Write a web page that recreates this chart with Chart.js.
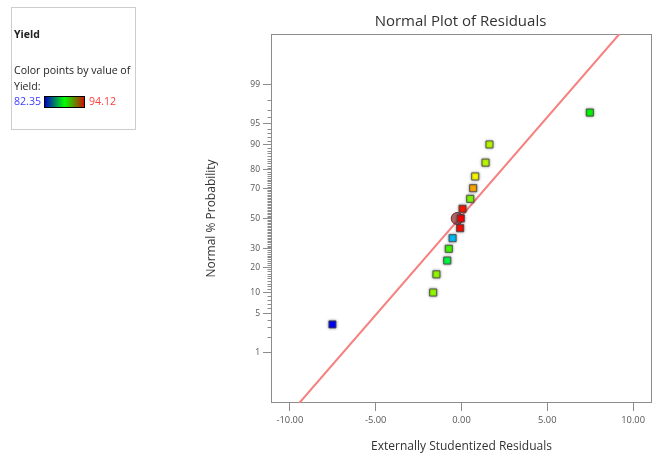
<!DOCTYPE html>
<html>
<head>
<meta charset="utf-8">
<script src="https://cdn.jsdelivr.net/npm/chart.js@4.4.1/dist/chart.umd.min.js"></script>
<style>
  html, body { margin: 0; padding: 0; background: #fff; }
  #wrap { position: relative; width: 654px; height: 458px; overflow: hidden; }
  #plot { position: absolute; left: 0; top: 0; }
  .key { position: absolute; left: 11px; top: 7px; width: 123px; height: 121px;
         border: 1px solid #cdcdcd; font-family: "Open Sans", sans-serif; color: #222; }
  .key div { position: absolute; white-space: nowrap; }
  .key .name { left: 2px; top: 19px; font-size: 10.5px; font-weight: bold; }
  .key .desc { left: 2px; top: 54px; font-size: 10.6px; line-height: 16px; }
  .key .lo { left: 2px; top: 86px; font-size: 10.6px; color: #3d3dff; }
  .key .hi { left: 77px; top: 86px; font-size: 10.6px; color: #ff3d3d; }
  .key .bar { left: 32px; top: 88px; width: 39px; height: 10px; border: 1px solid #000;
              background: linear-gradient(to right, #0000c8, #00ff00 50%, #c81400); }
</style>
</head>
<body>
<div id="wrap">
  <canvas id="plot" width="654" height="458"></canvas>
  <div class="key">
    <div class="name">Yield</div>
    <div class="desc">Color points by value of<br>Yield:</div>
    <div class="lo">82.35</div>
    <div class="bar"></div>
    <div class="hi">94.12</div>
  </div>
</div>
<script>
// Externally studentized residuals, sorted, with their normal % probability ranks
const residuals     = [-7.52, -1.65, -1.46, -0.83, -0.74, -0.52, -0.08, -0.04, 0.06, 0.51, 0.68, 0.80, 1.40, 1.63, 7.48];
const probabilities = [3.33, 10.00, 16.67, 23.33, 30.00, 36.67, 43.33, 50.00, 56.67, 63.33, 70.00, 76.67, 83.33, 90.00, 96.67];
// Yield of each run, used to colour its marker
const yields        = [82.35, 89.95, 89.95, 87.45, 89.02, 84.56, 93.98, 94.12, 93.85, 89.71, 92.16, 91.18, 90.44, 90.44, 88.24];
const yieldMin = 82.35, yieldMax = 94.12;

// Highlighted run
const markerResidual = [-0.25];
const markerProb     = [50];

// Reference line ends
const lineResidual = [-9.45, 9.2];
const lineProb     = [0.07, 99.93];

// Axes
const xTickValues = [-10, -5, 0, 5, 10];
const xRange = [-11.1, 11.1];
const yTickValues = [1, 5, 10, 20, 30, 50, 70, 80, 90, 95, 99];
const yRange = [0.07, 99.93];

// Inverse standard normal CDF (Acklam), input in percent
function probit(pct) {
  const p = pct / 100;
  const a = [-39.69683028665376, 220.9460984245205, -275.9285104469687, 138.3577518672690, -30.66479806614716, 2.506628277459239];
  const b = [-54.47609879822406, 161.5858368580409, -155.6989798598866, 66.80131188771972, -13.28068155288572];
  const c = [-0.007784894002430293, -0.3223964580411365, -2.400758277161838, -2.549732539343734, 4.374664141464968, 2.938163982698783];
  const d = [0.007784695709041462, 0.3224671290700398, 2.445134137142996, 3.754408661907416];
  const pl = 0.02425, ph = 1 - pl;
  let q, r;
  if (p < pl) {
    q = Math.sqrt(-2 * Math.log(p));
    return (((((c[0]*q+c[1])*q+c[2])*q+c[3])*q+c[4])*q+c[5]) / ((((d[0]*q+d[1])*q+d[2])*q+d[3])*q+1);
  }
  if (p <= ph) {
    q = p - 0.5; r = q * q;
    return (((((a[0]*r+a[1])*r+a[2])*r+a[3])*r+a[4])*r+a[5])*q / (((((b[0]*r+b[1])*r+b[2])*r+b[3])*r+b[4])*r+1);
  }
  q = Math.sqrt(-2 * Math.log(1 - p));
  return -(((((c[0]*q+c[1])*q+c[2])*q+c[3])*q+c[4])*q+c[5]) / ((((d[0]*q+d[1])*q+d[2])*q+d[3])*q+1);
}
function normCdfPct(z) {
  const t = 1 / (1 + 0.2316419 * Math.abs(z));
  const y = t * (0.319381530 + t * (-0.356563782 + t * (1.781477937 + t * (-1.821255978 + t * 1.330274429))));
  const v = 1 - Math.exp(-z * z / 2) / Math.sqrt(2 * Math.PI) * y;
  return 100 * (z >= 0 ? v : 1 - v);
}

// Normal-probability scale: values in percent, laid out linearly in z
const LinearBase = Chart.LinearScale || Chart.registry.getScale('linear');
class ProbitScale extends LinearBase {
  determineDataLimits() {
    this.min = probit(this.options.min);
    this.max = probit(this.options.max);
  }
  buildTicks() {
    return yTickValues.map(v => ({ value: v }));
  }
  getPixelForValue(value) {
    if (value === null || value === undefined) return NaN;
    return super.getPixelForValue(probit(value));
  }
  getValueForPixel(pixel) {
    return normCdfPct(super.getValueForPixel(pixel));
  }
}
ProbitScale.id = 'probit';
ProbitScale.defaults = {};
Chart.register(ProbitScale);

function yieldColour(v) {
  const t = Math.min(1, Math.max(0, (v - yieldMin) / (yieldMax - yieldMin)));
  return 'hsl(' + (240 * (1 - t)).toFixed(1) + ',100%,50%)';
}

const FONT = '"Open Sans", sans-serif';
const frameColour = '#8c8c8c';

const decor = {
  id: 'decor',
  beforeDatasetsDraw(chart) {
    const { ctx, chartArea: a } = chart;
    ctx.save();
    ctx.strokeStyle = frameColour;
    ctx.lineWidth = 1;
    const l = Math.round(a.left) + 0.5, t = Math.round(a.top) + 0.5;
    const r = Math.round(a.right) - 0.5, b = Math.round(a.bottom) - 0.5;
    ctx.strokeRect(l, t, r - l, b - t);
    // minor ticks at every whole percent on the probability axis
    const ys = chart.scales.y;
    ctx.beginPath();
    for (let p = 2; p <= 98; p++) {
      if (yTickValues.includes(p)) continue;
      const y = Math.round(ys.getPixelForValue(p)) + 0.5;
      ctx.moveTo(l - 4, y);
      ctx.lineTo(l, y);
    }
    ctx.stroke();
    ctx.restore();
  },
  beforeDatasetDraw(chart, args) {
    if (args.index === 0) {
      const ctx = chart.ctx;
      ctx.save();
      ctx.shadowColor = 'rgba(0,0,0,0.45)';
      ctx.shadowBlur = 3;
    }
  },
  afterDatasetDraw(chart, args) {
    if (args.index === 0) chart.ctx.restore();
  },
  afterDraw(chart) {
    const { ctx, chartArea: a } = chart;
    ctx.save();
    ctx.fillStyle = '#333';
    ctx.font = '15px ' + FONT;
    ctx.textAlign = 'center';
    ctx.textBaseline = 'middle';
    ctx.fillText('Normal Plot of Residuals', (a.left + a.right) / 2 - 1, 22);
    ctx.restore();
  }
};

new Chart(document.getElementById('plot'), {
  type: 'scatter',
  data: {
    datasets: [
      {
        label: 'Residuals',
        data: residuals.map((r, i) => ({ x: r, y: probabilities[i] })),
        pointStyle: 'rect',
        pointRadius: 5,
        backgroundColor: yields.map(yieldColour),
        borderColor: 'rgba(70,70,70,0.85)',
        borderWidth: 1
      },
      {
        label: 'Selected',
        data: markerResidual.map((r, i) => ({ x: r, y: markerProb[i] })),
        pointStyle: 'circle',
        pointRadius: 6,
        backgroundColor: 'rgba(150,50,50,0.75)',
        borderColor: 'rgba(90,30,30,0.9)',
        borderWidth: 1
      },
      {
        label: 'Reference',
        type: 'line',
        data: lineResidual.map((r, i) => ({ x: r, y: lineProb[i] })),
        borderColor: '#f78080',
        borderWidth: 2,
        pointRadius: 0,
        fill: false
      }
    ]
  },
  options: {
    responsive: false,
    animation: false,
    events: [],
    layout: { autoPadding: false, padding: { left: 195, right: 2, top: 34, bottom: 0 } },
    plugins: { legend: { display: false }, tooltip: { enabled: false }, title: { display: false } },
    scales: {
      x: {
        type: 'linear',
        position: 'bottom',
        min: xRange[0],
        max: xRange[1],
        afterBuildTicks: s => { s.ticks = xTickValues.map(v => ({ value: v })); },
        afterFit: s => { s.height = 55; s.paddingLeft = 0; s.paddingRight = 0; },
        border: { display: false },
        grid: { drawOnChartArea: false, drawTicks: true, tickLength: 8, color: frameColour },
        ticks: { autoSkip: false, maxRotation: 0, padding: 4, color: '#555',
                 font: { family: FONT, size: 9.3 }, callback: v => v.toFixed(2) },
        title: { display: true, text: 'Externally Studentized Residuals', color: '#333',
                 font: { family: FONT, size: 12 }, padding: { top: 0, bottom: 4 } }
      },
      y: {
        type: 'probit',
        position: 'left',
        min: yRange[0],
        max: yRange[1],
        afterFit: s => { s.width = 76; s.paddingTop = 0; s.paddingBottom = 0; },
        border: { display: false },
        grid: { drawOnChartArea: false, drawTicks: true, tickLength: 8, color: frameColour },
        ticks: { autoSkip: false, padding: 3, color: '#555',
                 font: { family: FONT, size: 8.5 }, callback: v => String(v) },
        title: { display: true, text: 'Normal % Probability', color: '#333',
                 font: { family: FONT, size: 12 }, padding: { top: 9, bottom: 0 } }
      }
    }
  },
  plugins: [decor]
});
</script>
</body>
</html>
